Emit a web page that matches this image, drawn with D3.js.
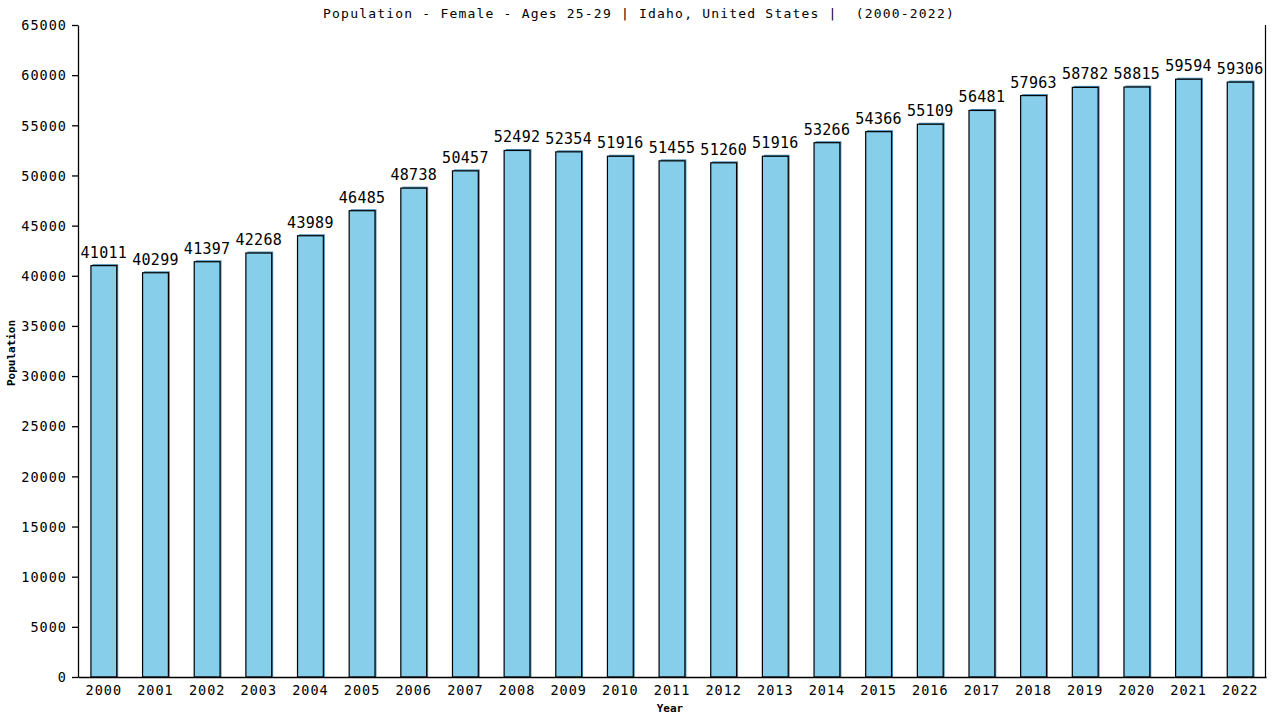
<!DOCTYPE html>
<html>
<head>
<meta charset="utf-8">
<script src="https://cdn.jsdelivr.net/npm/d3@7"></script>
<style>
html,body{margin:0;padding:0;background:#fff;}
svg{display:block;}
text{font-family:"DejaVu Sans Mono",monospace;fill:#000;}
</style>
</head>
<body>
<svg id="chart" width="1280" height="720"></svg>
<script>
const years = ["2000","2001","2002","2003","2004","2005","2006","2007","2008","2009","2010","2011","2012","2013","2014","2015","2016","2017","2018","2019","2020","2021","2022"];
const population = [41011,40299,41397,42268,43989,46485,48738,50457,52492,52354,51916,51455,51260,51916,53266,54366,55109,56481,57963,58782,58815,59594,59306];
const yTicks = [0,5000,10000,15000,20000,25000,30000,35000,40000,45000,50000,55000,60000,65000];
const chartTitle = "Population - Female - Ages 25-29 | Idaho, United States |  (2000-2022)";

(function () {
const svg = d3.select("#chart");
const mLeft = 78, mRight = 1266, mTop = 25, mBottom = 677;

const x = d3.scaleBand().domain(years).range([mLeft, mRight]).paddingInner(0.5).paddingOuter(0.25);
const y = d3.scaleLinear().domain([0, 65000]).range([mBottom, mTop]);

// right border line
svg.append("line").attr("x1", mRight - 0.5).attr("x2", mRight - 0.5).attr("y1", mTop).attr("y2", mBottom)
  .attr("stroke", "#000").attr("stroke-width", 1.2);

// bars: shadow + main
const g = svg.append("g");
g.selectAll("rect.shadow").data(population).join("rect")
  .attr("class", "shadow")
  .attr("x", (d, i) => x(years[i]) + 1.5)
  .attr("y", d => y(d) - 1.5)
  .attr("width", x.bandwidth())
  .attr("height", d => mBottom - y(d) + 1.5)
  .attr("fill", "#4a8fb5");
g.selectAll("rect.bar").data(population).join("rect")
  .attr("class", "bar")
  .attr("x", (d, i) => x(years[i]))
  .attr("y", d => y(d))
  .attr("width", x.bandwidth())
  .attr("height", d => mBottom - y(d))
  .attr("fill", "#87ceeb")
  .attr("stroke", "#000")
  .attr("stroke-width", 1.2);

// value labels
g.selectAll("text.val").data(population).join("text")
  .attr("class", "val")
  .attr("x", (d, i) => x(years[i]) + x.bandwidth() / 2)
  .attr("y", d => y(d) - 8)
  .attr("text-anchor", "middle")
  .style("font-size", "15px")
  .style("letter-spacing", "0.3px")
  .text(d => d);

// y axis
const yAxis = d3.axisLeft(y).tickValues(yTicks).tickSize(6).tickSizeOuter(0).tickFormat(d3.format("d"));
const ya = svg.append("g").attr("transform", `translate(${mLeft},0)`).call(yAxis);
ya.select(".domain").attr("stroke", "#000").attr("stroke-width", 1.3);
ya.selectAll(".tick line").attr("stroke", "#000").attr("stroke-width", 1.3);
ya.selectAll(".tick text").attr("x", -11).attr("dy", "0.35em")
  .style("font-size", "13.5px").style("letter-spacing", "1px").style("font-family", "DejaVu Sans Mono, monospace");

// x axis
const xAxis = d3.axisBottom(x).tickSize(0).tickSizeOuter(0);
const xa = svg.append("g").attr("transform", `translate(0,${mBottom})`).call(xAxis);
xa.select(".domain").attr("stroke", "#000").attr("stroke-width", 1.3);
xa.selectAll(".tick text").attr("y", 8).attr("dy", "0.71em")
  .style("font-size", "13.5px").style("letter-spacing", "1px").style("font-family", "DejaVu Sans Mono, monospace");

// title
svg.append("text").attr("x", 639).attr("y", 18).attr("text-anchor", "middle")
  .style("white-space", "pre").attr("xml:space", "preserve")
  .style("font-size", "13px").style("letter-spacing", "1.2px").text(chartTitle);

// axis titles
svg.append("text").attr("x", 670).attr("y", 712).attr("text-anchor", "middle")
  .style("font-size", "11px").style("font-weight", "bold").text("Year");
svg.append("text").attr("transform", "translate(15,353) rotate(-90)").attr("text-anchor", "middle")
  .style("font-size", "11px").style("font-weight", "bold").text("Population");
})();
</script>
</body>
</html>
